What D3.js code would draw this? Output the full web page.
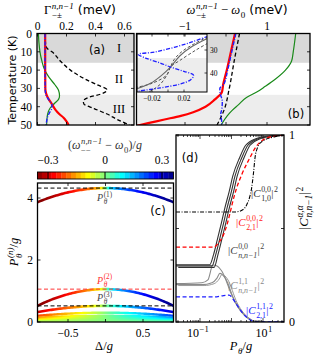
<!DOCTYPE html>
<html><head><meta charset="utf-8">
<script src="https://cdn.jsdelivr.net/npm/d3@7"></script>
<style>html,body{margin:0;padding:0;background:#fff}</style>
</head><body>
<svg id="c" width="315" height="355"></svg>
<script>
// ================= DATA =================
const tempTicks = [0, 10, 20, 30, 40, 50];
const gammaTicks = [0, 0.2, 0.4, 0.6];
const omegaTicks = [-1, 1];
const regionBounds = [16, 33.5];
const regionLabels = ["I", "II", "III"];
const regionLabelT = [8, 25, 41.5];

// panel (a): linewidth vs temperature
const aT_green = [0, 5, 10, 15, 20, 24, 28, 31, 34, 36, 38, 41, 44, 47, 50];
const aGreen = [0.006, 0.01, 0.017, 0.03, 0.05, 0.08, 0.12, 0.145, 0.152, 0.145, 0.12, 0.085, 0.07, 0.065, 0.063];
const aT_black = [0, 5, 8, 10, 15, 20, 25, 28, 30.8, 33, 35, 37, 38.5, 41, 44, 47, 50];
const aBlack = [0.052, 0.055, 0.065, 0.1, 0.157, 0.227, 0.33, 0.41, 0.48, 0.44, 0.35, 0.316, 0.32, 0.39, 0.48, 0.55, 0.635];
const aT_red = [0, 10, 20, 30, 32, 34, 36, 38, 40, 42, 44, 46, 48, 50];
const aRed = [0.053, 0.053, 0.053, 0.054, 0.057, 0.065, 0.078, 0.095, 0.11, 0.127, 0.15, 0.18, 0.2, 0.215];
const aT_blue = [0, 10, 20, 30, 33, 35, 37, 39, 41, 43, 45, 47, 50];
const aBlue = [0.052, 0.052, 0.052, 0.053, 0.056, 0.068, 0.085, 0.1, 0.098, 0.085, 0.072, 0.065, 0.06];

// panel (b): frequency shift vs temperature
const bT_red = [0, 10, 20, 28, 32, 36, 40, 43, 45, 47, 49, 51];
const bRed = [0.22, 0.12, 0.02, -0.07, -0.1, -0.27, -0.5, -0.8, -1.1, -1.5, -1.9, -2.3];
const bT_blue = [0, 10, 20, 28, 30, 33, 37, 41, 44.5, 47, 50];
const bBlue = [0.24, 0.14, 0.04, -0.06, -0.15, -0.14, -0.09, -0.1, -0.13, -0.11, -0.1];
const bT_black = [0, 15, 30, 42, 50];
const bBlack = [0.33, 0.2, 0.08, -0.05, -0.22];
const bT_green = [0, 10, 15, 20, 25, 29, 32, 35, 39, 42, 45, 50];
const bGreen = [1.7, 1.64, 1.6, 1.45, 1.2, 0.95, 0.75, 0.5, 0.3, 0.15, 0.03, -0.12];

// inset of (b)
const insetXTicks = [-0.02, 0, 0.02];
const insetXLabels = [-0.02, 0.02];
const insetYTicks = [30, 40];
const inBlueX = [0.05, 0.03, 0.009, -0.017, -0.037, -0.028, -0.01, 0.003, 0.02, 0.032, 0.028, 0.015, -0.01, -0.04];
const inBlueT = [24, 26.5, 28.7, 30.9, 31.9, 33.5, 35.6, 37.4, 39.3, 41, 43, 44.8, 46.5, 48];
const inGrayX = [0.05, 0.03, 0.015, 0.003, -0.008, -0.022, -0.04];
const inGrayT = [24.8, 28.5, 32.5, 37.4, 41, 44.5, 47];
const inDashAX = [0.05, 0.02, 0.008, 0.003, -0.002, -0.02, -0.04];
const inDashAT = [24.2, 30, 34, 37.4, 41, 44.5, 46.3];
const inDashBX = [0.05, 0.035, 0.015, 0.003, 0.0, -0.01, -0.025];
const inDashBT = [27, 30, 34.5, 37.4, 40, 45, 48.5];

// panel (c): critical powers vs detuning
const deltaTicks = [-0.5, 0, 0.5];
const deltaLabels = [-0.5, 0.5];
const pTicks = [0, 2, 4];
const cbTicks = [-0.3, 0, 0.3];
const cPeak = [4.32, 1.06, 0.52, 0.30, 0.20, 0.145, 0.11, 0.085, 0.068, 0.055, 0.045, 0.037, 0.03, 0.025, 0.02, 0.016];
const cEnd = [3.87, 0.53, 0.32, 0.20, 0.14, 0.10, 0.078, 0.06, 0.048, 0.039, 0.032, 0.026, 0.021, 0.017, 0.014, 0.011];
const cShift = [0.36, 0.36, 0.3, 0.22, 0.17, 0.14, 0.12, 0.1, 0.09, 0.08, 0.07, 0.06, 0.055, 0.05, 0.045, 0.04];
const cShape = [0.45, 0.55, 0.75, 0.85, 0.9, 0.9, 0.9, 0.9, 0.9, 0.9, 0.9, 0.9, 0.9, 0.9, 0.9, 0.9];
const pThresh = [4.32, 1.06, 0.52];

// panel (d): weights vs power (log10 P, value)
const dBlackLogP = [-1.76, -0.9, -0.62, -0.5, -0.38, -0.25, -0.14, 0.0, 0.11, 0.33, 0.52, 0.84, 1.29, 1.67];
const dBlack = [0.30, 0.30, 0.30, 0.36, 0.44, 0.53, 0.61, 0.70, 0.78, 0.88, 0.945, 0.98, 0.995, 1.0];
const dBlackShift = [-0.07, 0, 0.07];
const dBlackOffset = [0.006, 0, -0.008];
const dRedLogP = [-1.76, -0.55, -0.43, -0.3, -0.2, -0.05, 0.02, 0.15, 0.33, 0.59, 0.75, 1.06, 1.4, 1.67];
const dRed = [0.40, 0.40, 0.42, 0.45, 0.49, 0.58, 0.63, 0.71, 0.79, 0.88, 0.93, 0.98, 0.995, 1.0];
const dDashDotLogP = [-1.76, 0.1, 0.3, 0.48, 0.58, 0.64, 0.7, 0.746, 0.82, 0.96, 1.38, 1.67];
const dDashDot = [0.588, 0.588, 0.595, 0.626, 0.67, 0.717, 0.8, 0.877, 0.93, 0.964, 0.991, 1.0];
const dGrayALogP = [-1.76, -0.94, -0.75, -0.59, -0.46, -0.3, 0.02, 0.33, 0.65, 0.9, 1.67];
const dGrayA = [0.205, 0.21, 0.225, 0.305, 0.3, 0.27, 0.14, 0.053, 0.01, 0.0, 0.0];
const dGrayBLogP = [-1.76, -0.94, -0.62, -0.46, -0.37, -0.2, 0.11, 0.52, 0.84, 1.67];
const dGrayB = [0.2, 0.2, 0.21, 0.235, 0.26, 0.235, 0.107, 0.02, 0.0, 0.0];
const dBlueLogP = [-1.76, -0.52, -0.3, -0.08, 0.11, 0.33, 0.52, 0.78, 1.67];
const dBlue = [0.134, 0.134, 0.14, 0.144, 0.107, 0.053, 0.02, 0.0, 0.0];
const dYTicks = [0, 0.5, 1];
const dYLabels = [0, 1];

// ================= HELPERS =================
const svg = d3.select('#c');
const SERIF = "'Liberation Serif','DejaVu Serif',serif";
const SANS = "'DejaVu Sans',sans-serif";
const NB = '\u00a0';

function mtext(parent, x, y, segs, opt) {
  opt = opt || {};
  const fs = opt.fs || 11, fill = opt.fill || '#000', anchor = opt.anchor || 'start';
  const sr = opt.sr || 0.72;
  const g = parent.append('g');
  let cx = 0;
  for (const s of segs) {
    if (s.t) {
      const t = g.append('text').attr('x', cx).attr('y', 0).attr('font-size', s.fs || fs)
        .attr('font-family', s.sans ? SANS : SERIF).attr('font-style', s.i ? 'italic' : 'normal')
        .attr('fill', fill).text(s.t);
      cx += t.node().getComputedTextLength();
    }
    let w = 0; const sfs = fs * sr;
    if (s.sup) {
      const t = g.append('text').attr('x', cx + 0.6).attr('y', -fs * 0.42).attr('font-size', sfs)
        .attr('font-family', SERIF).attr('font-style', s.supi ? 'italic' : 'normal').attr('fill', fill).text(s.sup);
      w = Math.max(w, t.node().getComputedTextLength() + 0.8);
    }
    if (s.sub) {
      const t = g.append('text').attr('x', cx + 0.6).attr('y', fs * 0.32).attr('font-size', sfs)
        .attr('font-family', SERIF).attr('font-style', s.subi ? 'italic' : 'normal').attr('fill', fill).text(s.sub);
      w = Math.max(w, t.node().getComputedTextLength() + 0.8);
    }
    cx += w;
  }
  const off = anchor === 'middle' ? -cx / 2 : anchor === 'end' ? -cx : 0;
  g.attr('transform', `translate(${x + off},${y})`);
  return g;
}
function plainText(parent, x, y, str, opt) {
  opt = opt || {};
  return parent.append('text').attr('x', x).attr('y', y).attr('font-size', opt.fs || 11.5)
    .attr('font-family', opt.sans ? SANS : SERIF).attr('text-anchor', opt.anchor || 'middle')
    .attr('fill', opt.fill || '#000').text(str);
}
const fmt = v => (v < 0 ? '\u2212' : '') + Math.abs(v);
function jet(t) {
  t = Math.max(0, Math.min(1, t));
  const c = v => Math.max(0, Math.min(1, v));
  return d3.rgb(c(1.5 - Math.abs(4 * t - 3)) * 255, c(1.5 - Math.abs(4 * t - 2)) * 255, c(1.5 - Math.abs(4 * t - 1)) * 255).formatHex();
}
const OMAX = 0.358;
const omegaColor = w => jet(1 - (w + OMAX) / (2 * OMAX));
function clip(id, x0, y0, x1, y1) {
  svg.append('clipPath').attr('id', id).append('rect').attr('x', x0).attr('y', y0).attr('width', x1 - x0).attr('height', y1 - y0);
}
function frame(x0, y0, x1, y1, sw) {
  svg.append('rect').attr('x', x0).attr('y', y0).attr('width', x1 - x0).attr('height', y1 - y0)
    .attr('fill', 'none').attr('stroke', '#000').attr('stroke-width', sw || 1.3);
}
function tick(x1, y1, x2, y2, sw) {
  svg.append('line').attr('x1', x1).attr('y1', y1).attr('x2', x2).attr('y2', y2).attr('stroke', '#000').attr('stroke-width', sw || 0.8);
}

// ================= PANEL (a) =================
const A = {x0: 37, x1: 134, y0: 33.5, y1: 125};
const aX = d3.scaleLinear().domain([0, 0.6]).range([37.5, 124.5]);
const tY = d3.scaleLinear().domain([0, 50]).range([A.y0, A.y1]);
clip('clipA', A.x0, A.y0, A.x1, A.y1);
const gA = svg.append('g').attr('clip-path', 'url(#clipA)');
gA.append('rect').attr('x', A.x0).attr('y', tY(0)).attr('width', A.x1 - A.x0).attr('height', tY(regionBounds[0]) - tY(0)).attr('fill', '#d9d9d9');
gA.append('rect').attr('x', A.x0).attr('y', tY(regionBounds[1])).attr('width', A.x1 - A.x0).attr('height', tY(50) - tY(regionBounds[1])).attr('fill', '#ededed');
function tLine(xs, ts, xsc) {
  return d3.line().x(d => xsc(d[0])).y(d => tY(d[1])).curve(d3.curveMonotoneY)(xs.map((v, i) => [v, ts[i]]));
}
gA.append('path').attr('d', tLine(aGreen, aT_green, aX)).attr('fill', 'none').attr('stroke', '#1a8a1a').attr('stroke-width', 1.2);
gA.append('path').attr('d', tLine(aBlack, aT_black, aX)).attr('fill', 'none').attr('stroke', '#000').attr('stroke-width', 1.3).attr('stroke-dasharray', '4,2.5');
gA.append('path').attr('d', tLine(aRed, aT_red, aX)).attr('fill', 'none').attr('stroke', '#ff0000').attr('stroke-width', 2.2);
gA.append('path').attr('d', tLine(aBlue, aT_blue, aX)).attr('fill', 'none').attr('stroke', '#1f1fff').attr('stroke-width', 1.4).attr('stroke-dasharray', '4,1.5,1,1.5');
regionLabels.forEach((s, i) => plainText(svg, 119, tY(regionLabelT[i]) + 4, s, {fs: 12.5}));
plainText(svg, 97, 54, '(a)', {sans: true, fs: 11.5});
frame(A.x0, A.y0, A.x1, A.y1);
tempTicks.forEach(t => { tick(A.x0, tY(t), A.x0 + 3, tY(t)); tick(A.x1, tY(t), A.x1 - 3, tY(t)); });
gammaTicks.forEach(v => { tick(aX(v), A.y0, aX(v), A.y0 + 3); tick(aX(v), A.y1, aX(v), A.y1 - 3); });
tempTicks.forEach(t => plainText(svg, 32, tY(t) + 4, String(t), {anchor: 'end'}));
gammaTicks.forEach(v => plainText(svg, aX(v), 30, String(v)));
mtext(svg, 80, 14, [{t: 'Γ', sup: 'n,n−1', sub: '−±', supi: true}, {t: NB + '(meV)', sans: true}], {fs: 12.5, anchor: 'middle'});
svg.append('text').attr('transform', 'translate(16,80) rotate(-90)').attr('text-anchor', 'middle')
  .attr('font-family', SANS).attr('font-size', 11).text('Temperature (K)');

// ================= PANEL (b) =================
const B = {x0: 136.5, x1: 310, y0: 33.5, y1: 125};
const bX = d3.scaleLinear().domain([-1, 1]).range([185, 267]);
clip('clipB', B.x0, B.y0, B.x1, B.y1);
const gB = svg.append('g').attr('clip-path', 'url(#clipB)');
gB.append('rect').attr('x', B.x0).attr('y', tY(0)).attr('width', B.x1 - B.x0).attr('height', tY(regionBounds[0]) - tY(0)).attr('fill', '#d9d9d9');
gB.append('rect').attr('x', B.x0).attr('y', tY(regionBounds[1])).attr('width', B.x1 - B.x0).attr('height', tY(50) - tY(regionBounds[1])).attr('fill', '#ededed');
gB.append('path').attr('d', tLine(bGreen, bT_green, bX)).attr('fill', 'none').attr('stroke', '#1a8a1a').attr('stroke-width', 1.2);
gB.append('path').attr('d', tLine(bBlack, bT_black, bX)).attr('fill', 'none').attr('stroke', '#000').attr('stroke-width', 1.3).attr('stroke-dasharray', '4,2.5');
gB.append('path').attr('d', tLine(bRed, bT_red, bX)).attr('fill', 'none').attr('stroke', '#ff0000').attr('stroke-width', 2.2);
gB.append('path').attr('d', tLine(bBlue, bT_blue, bX)).attr('fill', 'none').attr('stroke', '#1f1fff').attr('stroke-width', 1.4).attr('stroke-dasharray', '4,1.5,1,1.5');

// inset
const I = {x0: 137, x1: 207, y0: 34, y1: 92};
const inX = d3.scaleLinear().domain([-0.02, 0.02]).range([152, 184]);
const inY = d3.scaleLinear().domain([30, 40]).range([50, 73]);
clip('clipI', I.x0, I.y0, I.x1, I.y1);
const gI = svg.append('g').attr('clip-path', 'url(#clipI)');
gI.append('rect').attr('x', I.x0).attr('y', I.y0).attr('width', I.x1 - I.x0).attr('height', I.y1 - I.y0).attr('fill', '#fff');
gI.append('rect').attr('x', I.x0).attr('y', inY(regionBounds[1])).attr('width', I.x1 - I.x0).attr('height', I.y1 - inY(regionBounds[1])).attr('fill', '#ededed');
function inLine(xs, ts) {
  return d3.line().x(d => inX(d[0])).y(d => inY(d[1])).curve(d3.curveCatmullRom)(xs.map((v, i) => [v, ts[i]]));
}
gI.append('path').attr('d', inLine(inDashAX, inDashAT)).attr('fill', 'none').attr('stroke', '#555').attr('stroke-width', 1).attr('stroke-dasharray', '3,2');
gI.append('path').attr('d', inLine(inDashBX, inDashBT)).attr('fill', 'none').attr('stroke', '#555').attr('stroke-width', 1).attr('stroke-dasharray', '3,2');
gI.append('path').attr('d', inLine(inGrayX, inGrayT)).attr('fill', 'none').attr('stroke', '#666').attr('stroke-width', 1.1);
gI.append('path').attr('d', inLine(inBlueX, inBlueT)).attr('fill', 'none').attr('stroke', '#1f1fff').attr('stroke-width', 1.3).attr('stroke-dasharray', '4,1.5,1,1.5');
frame(I.x0, I.y0, I.x1, I.y1, 1);
insetXTicks.forEach(v => { tick(inX(v), I.y1, inX(v), I.y1 - 2.5, 0.7); tick(inX(v), I.y0, inX(v), I.y0 + 2.5, 0.7); });
insetYTicks.forEach(v => { tick(I.x1, inY(v), I.x1 - 2.5, inY(v), 0.7); });
insetXLabels.forEach(v => plainText(svg, inX(v), 101, fmt(v), {fs: 7.5}));
insetYTicks.forEach(v => plainText(svg, 210, inY(v) + 2.7, String(v), {fs: 7.5, anchor: 'start'}));

plainText(svg, 296, 118, '(b)', {sans: true, fs: 11.5});
frame(B.x0, B.y0, B.x1, B.y1);
tempTicks.forEach(t => { tick(B.x1, tY(t), B.x1 - 3, tY(t)); });
[-1, 0, 1].forEach(v => { tick(bX(v), B.y0, bX(v), B.y0 + 3); tick(bX(v), B.y1, bX(v), B.y1 - 3); });
omegaTicks.forEach(v => plainText(svg, bX(v), 30, fmt(v)));
mtext(svg, 237, 14, [{t: 'ω', i: true, sup: 'n,n−1', sub: '−±', supi: true}, {t: NB + '−' + NB}, {t: 'ω', i: true, sub: '0'}, {t: NB + '(meV)', sans: true}], {fs: 12.5, anchor: 'middle'});

// ================= PANEL (c) =================
const C = {x0: 37.5, x1: 173.5, y0: 183, y1: 322};
const cX = d3.scaleLinear().domain([-0.5, 0.5]).range([68, 143]);
const cY = d3.scaleLinear().domain([0, 4]).range([322, 198]);
const cbX = d3.scaleLinear().domain([-0.3, 0.3]).range([48, 162]);
// colorbar
const nCb = 28;
const cbStep = (2 * OMAX) / nCb;
d3.range(nCb).forEach(i => {
  const w0 = -OMAX + i * cbStep;
  svg.append('rect').attr('x', cbX(w0)).attr('y', 172).attr('width', cbX(w0 + cbStep) - cbX(w0) + 0.3).attr('height', 7)
    .attr('fill', omegaColor(w0 + cbStep / 2));
});
svg.append('rect').attr('x', C.x0).attr('y', 172).attr('width', C.x1 - C.x0).attr('height', 7).attr('fill', 'none').attr('stroke', '#000').attr('stroke-width', 0.9);
cbTicks.forEach(v => { tick(cbX(v), 172, cbX(v), 179, 1); plainText(svg, cbX(v), 164, fmt(v)); });
mtext(svg, 105, 149, [{t: '('}, {t: 'ω', i: true, sup: 'n,n−1', sub: '−−', supi: true}, {t: NB + '−' + NB}, {t: 'ω', i: true, sub: '0'}, {t: ')/'}, {t: 'g', i: true}], {fs: 12, anchor: 'middle', fill: '#333'});

clip('clipC', C.x0, C.y0, C.x1, C.y1);
const gC = svg.append('g').attr('clip-path', 'url(#clipC)');
const defs = svg.append('defs');
const dGrid = d3.range(-0.92, 0.921, 0.02);
cPeak.forEach((pk, n) => {
  const gid = 'arcg' + n;
  const grad = defs.append('linearGradient').attr('id', gid).attr('gradientUnits', 'userSpaceOnUse')
    .attr('x1', cX(-0.9)).attr('x2', cX(0.9)).attr('y1', 0).attr('y2', 0);
  d3.range(0, 1.0001, 0.025).forEach(f => {
    const dlt = -0.9 + 1.8 * f;
    const u = dlt / 0.9;
    const w = cShift[n] * Math.sign(u) * Math.pow(Math.abs(u), cShape[n]);
    grad.append('stop').attr('offset', f).attr('stop-color', omegaColor(w));
  });
  const pts = dGrid.map(dl => [dl, cEnd[n] + (pk - cEnd[n]) * (1 - (dl / 0.9) * (dl / 0.9))]);
  gC.append('path').attr('d', d3.line().x(d => cX(d[0])).y(d => cY(d[1]))(pts))
    .attr('fill', 'none').attr('stroke', `url(#${gid})`).attr('stroke-width', n < 3 ? 2.6 : 2.4);
});
const threshColors = ['#000', '#ff3333', '#000'];
pThresh.forEach((p, i) => {
  gC.append('line').attr('x1', C.x0).attr('x2', C.x1).attr('y1', cY(p)).attr('y2', cY(p))
    .attr('stroke', threshColors[i]).attr('stroke-width', 1).attr('stroke-dasharray', '4,2.5');
});
mtext(svg, 97, 201, [{t: 'P', i: true, sup: '(1)', sub: 'θ', subi: true}], {fs: 10, fill: '#444'});
mtext(svg, 97, 283.5, [{t: 'P', i: true, sup: '(2)', sub: 'θ', subi: true}], {fs: 10, fill: '#ff3333'});
mtext(svg, 97, 301, [{t: 'P', i: true, sup: '(3)', sub: 'θ', subi: true}], {fs: 10, fill: '#444'});
plainText(svg, 158, 215, '(c)', {sans: true, fs: 11.5});
frame(C.x0, C.y0, C.x1, C.y1);
deltaTicks.forEach(v => { tick(cX(v), C.y0, cX(v), C.y0 + 3); tick(cX(v), C.y1, cX(v), C.y1 - 3); });
pTicks.forEach(v => { tick(C.x0, cY(v), C.x0 + 3, cY(v)); tick(C.x1, cY(v), C.x1 - 3, cY(v)); });
deltaLabels.forEach(v => plainText(svg, cX(v), 337, fmt(v)));
pTicks.forEach(v => plainText(svg, 33, cY(v) + 4, String(v), {anchor: 'end'}));
mtext(svg, 104, 350, [{t: 'Δ'}, {t: '/'}, {t: 'g', i: true}], {fs: 12.5, anchor: 'middle'});
const rc = svg.append('g').attr('transform', 'translate(18,252) rotate(-90)');
mtext(rc, 0, 0, [{t: 'P', i: true, sup: '(n)', sub: 'θ', subi: true, supi: true}, {t: '/'}, {t: 'g', i: true}], {fs: 12.5, anchor: 'middle'});

// ================= PANEL (d) =================
const D = {x0: 176, x1: 284, y0: 135, y1: 322};
const dX = d3.scaleLog().domain([0.1, 10]).range([200, 263]);
const dY = d3.scaleLinear().domain([0, 1]).range([322, 135]);
clip('clipD', D.x0, D.y0, D.x1, D.y1);
const gD = svg.append('g').attr('clip-path', 'url(#clipD)');
function dLine(lp, vs, shift, voff) {
  shift = shift || 0; voff = voff || 0;
  return d3.line().x(d => dX(Math.pow(10, d[0] + shift))).y(d => dY(d[1])).curve(d3.curveMonotoneX)(
    lp.map((v, i) => [v, Math.min(1, vs[i] + (vs[i] < 0.35 ? voff : 0))]));
}
gD.append('path').attr('d', dLine(dGrayALogP, dGrayA)).attr('fill', 'none').attr('stroke', '#8a8a8a').attr('stroke-width', 1.1);
gD.append('path').attr('d', dLine(dGrayBLogP, dGrayB)).attr('fill', 'none').attr('stroke', '#8a8a8a').attr('stroke-width', 1.1);
gD.append('path').attr('d', dLine(dGrayBLogP, dGrayB, 0.07, -0.005)).attr('fill', 'none').attr('stroke', '#9a9a9a').attr('stroke-width', 1);
dBlackShift.forEach((s, i) => {
  gD.append('path').attr('d', dLine(dBlackLogP, dBlack, s, dBlackOffset[i])).attr('fill', 'none').attr('stroke', '#333').attr('stroke-width', 1.1);
});
gD.append('path').attr('d', dLine(dRedLogP, dRed)).attr('fill', 'none').attr('stroke', '#ff0000').attr('stroke-width', 1.3).attr('stroke-dasharray', '4,2.5');
gD.append('path').attr('d', dLine(dBlueLogP, dBlue)).attr('fill', 'none').attr('stroke', '#1f1fff').attr('stroke-width', 1.3).attr('stroke-dasharray', '4,2.5');
gD.append('path').attr('d', dLine(dDashDotLogP, dDashDot)).attr('fill', 'none').attr('stroke', '#000').attr('stroke-width', 1.1).attr('stroke-dasharray', '4,1.5,1,1.5');
frame(D.x0, D.y0, D.x1, D.y1);
[0.01, 0.1, 1, 10].forEach(dec => {
  d3.range(1, 10).forEach(m => {
    const v = dec * m;
    const px = dX(v);
    if (px <= D.x0 + 0.5 || px >= D.x1 - 0.5) return;
    const L = m === 1 ? 4 : 2;
    tick(px, D.y1, px, D.y1 - L, 0.7); tick(px, D.y0, px, D.y0 + L, 0.7);
  });
});
dYTicks.forEach(v => { tick(D.x0, dY(v), D.x0 + 3, dY(v)); tick(D.x1, dY(v), D.x1 - 3, dY(v)); });
dYLabels.forEach(v => plainText(svg, 289, dY(v) + 4, String(v), {anchor: 'start', fs: 12}));
mtext(svg, 198, 337, [{t: '10', sup: '−1'}], {fs: 12, anchor: 'middle'});
mtext(svg, 264, 337, [{t: '10', sup: '1'}], {fs: 12, anchor: 'middle'});
mtext(svg, 241, 350, [{t: 'P', i: true, sub: 'θ', subi: true}, {t: '/'}, {t: 'g', i: true}], {fs: 12.5, anchor: 'middle'});
plainText(svg, 190, 162, '(d)', {sans: true, fs: 11.5});
mtext(svg, 251, 197, [{t: '|'}, {t: 'C', i: true, sup: '0,0', sub: '1,0'}, {t: '|'}, {sup: '2'}], {fs: 11, fill: '#333'});
mtext(svg, 236, 226, [{t: '|'}, {t: 'C', i: true, sup: '0,0', sub: '2,1'}, {t: '|'}, {sup: '2'}], {fs: 11, fill: '#ff2020'});
mtext(svg, 228, 254, [{t: '|'}, {t: 'C', i: true, sup: '0,0', sub: 'n,n−1', subi: true}, {t: '|'}, {sup: '2'}], {fs: 11, fill: '#444'});
mtext(svg, 228, 289, [{t: '|'}, {t: 'C', i: true, sup: '1,1', sub: 'n,n−1', subi: true}, {t: '|'}, {sup: '2'}], {fs: 11, fill: '#888'});
mtext(svg, 246, 314, [{t: '|'}, {t: 'C', i: true, sup: '1,1', sub: '2,1'}, {t: '|'}, {sup: '2'}], {fs: 11, fill: '#2020ff'});
const rd = svg.append('g').attr('transform', 'translate(308,208) rotate(-90)');
mtext(rd, 0, 0, [{t: '|'}, {t: 'C', i: true, sup: 'α,α', sub: 'n,n−1', supi: true, subi: true}, {t: '|'}, {sup: '2'}], {fs: 13, anchor: 'middle'});
</script>
</body></html>
